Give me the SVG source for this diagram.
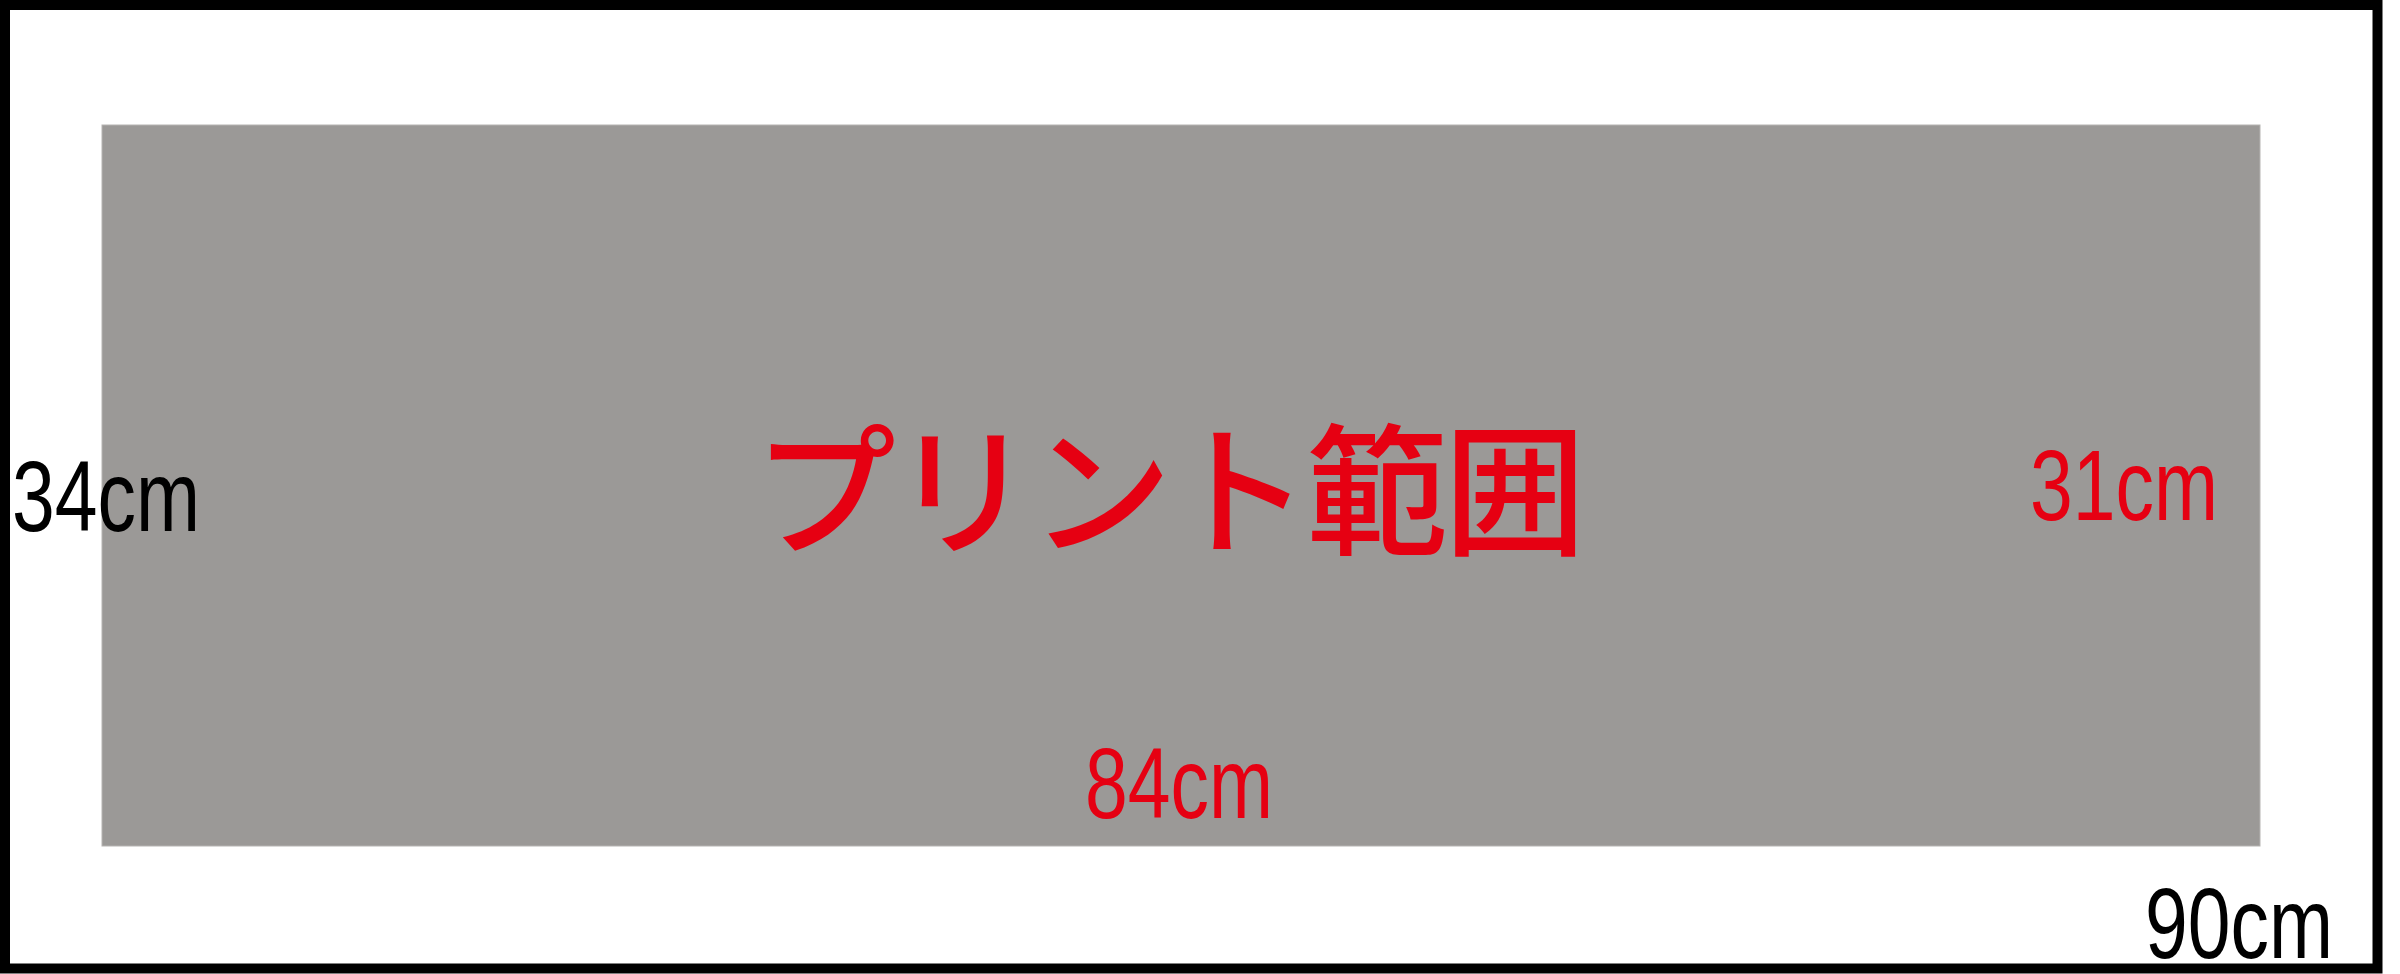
<svg xmlns="http://www.w3.org/2000/svg" width="2400" height="974" viewBox="0 0 2400 974">
<style>
.num{font-family:"Liberation Sans","Noto Sans CJK JP",sans-serif;font-size:100px}
.red{fill:#e60012}
.blk{fill:#000}
.title{font-family:"Noto Sans CJK JP",sans-serif;font-size:142px;font-weight:500;fill:#e60012}
</style>
<rect x="0" y="0" width="2400" height="974" fill="#fff"/>
<g id="frame">
<rect x="5" y="5" width="2372.5" height="963.5" fill="#fff" stroke="#000" stroke-width="10"/>
</g>
<g id="print-area">
<rect x="102" y="125" width="2158" height="721" fill="#9b9997" stroke="#b5b3b1" stroke-width="1"/>
<text class="title" x="1170" y="544" text-anchor="middle" textLength="832" lengthAdjust="spacing">プリント範囲</text>
</g>
<g id="labels">
<text class="num blk" x="12" y="531" textLength="188" lengthAdjust="spacingAndGlyphs">34cm</text>
<text class="num red" x="2030" y="520" textLength="188" lengthAdjust="spacingAndGlyphs">31cm</text>
<text class="num red" x="1085" y="818" textLength="188" lengthAdjust="spacingAndGlyphs">84cm</text>
<text class="num blk" x="2145" y="958" textLength="188" lengthAdjust="spacingAndGlyphs">90cm</text>
</g>
</svg>
